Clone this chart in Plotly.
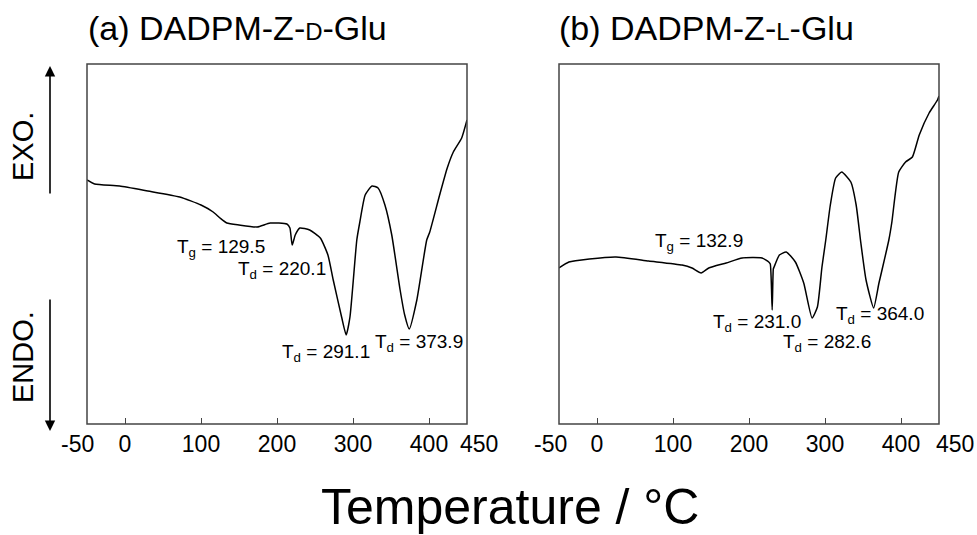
import plotly.graph_objects as go

# ---- data (y = arbitrary heat-flow units) ----
temp_a = [-50, -40, -7, 30, 72, 100, 116, 125, 134, 150, 174, 191, 213, 217, 220, 224, 230, 243,
          257, 267, 274, 285, 291, 296, 305, 309, 316, 325, 333, 342, 351, 362, 368, 374, 384,
          397, 401, 414, 424, 432, 443, 450]
heat_a = [244, 240, 238, 233, 227, 219, 212, 206, 201, 199, 197, 201, 200, 196, 179, 189, 196, 194,
          186, 169, 144, 107, 89, 107, 184, 202, 229, 238, 236, 219, 189, 134, 109, 95, 124,
          184, 192, 229, 256, 272, 286, 304]

temp_b = [-50, -37, -10, 25, 68, 112, 125, 137, 147, 170, 191, 217, 226, 228, 230.5, 232, 233,
          240, 249, 261, 272, 283, 290, 296, 301, 307, 314, 322, 334, 341, 347, 354, 364, 371,
          375, 384, 388, 397, 406, 415, 424, 437, 448, 450]
heat_b = [156, 162, 165, 167, 163, 159, 156, 151, 156, 161, 166, 166, 162, 160, 114, 155, 157,
          169, 172, 162, 141, 106, 117, 157, 184, 219, 246, 252, 242, 219, 182, 144, 116, 141,
          154, 184, 202, 252, 262, 267, 289, 311, 324, 328]

tick_vals = [0, 100, 200, 300, 400]
tick_text = ["0", "100", "200", "300", "400"]
end_ticks = [(-50, "-50"), (450, "450")]

titles = ["(a) DADPM-Z-<span style='font-size:24px'>D</span>-Glu",
          "(b) DADPM-Z-<span style='font-size:24px'>L</span>-Glu"]

# labels: (x, y, text)
labels_a = [(126, 176, "T<sub>g</sub> = 129.5"), (207, 154, "T<sub>d</sub> = 220.1"),
            (264, 71, "T<sub>d</sub> = 291.1"), (387, 81, "T<sub>d</sub> = 373.9")]
labels_b = [(134, 182, "T<sub>g</sub> = 132.9"), (211, 101, "T<sub>d</sub> = 231.0"),
            (303, 81, "T<sub>d</sub> = 282.6"), (372, 109, "T<sub>d</sub> = 364.0")]

FONT = "Liberation Sans, Arial, Helvetica, sans-serif"
W, H = 977, 535

fig = go.Figure()
fig.add_trace(go.Scatter(x=temp_a, y=heat_a, mode="lines",
                         line=dict(color="black", width=1.5, shape="spline", smoothing=0.5),
                         xaxis="x", yaxis="y", showlegend=False, hoverinfo="skip"))
fig.add_trace(go.Scatter(x=temp_b, y=heat_b, mode="lines",
                         line=dict(color="black", width=1.5, shape="spline", smoothing=0.5),
                         xaxis="x2", yaxis="y2", showlegend=False, hoverinfo="skip"))

xa = dict(range=[-50, 450], autorange=False, tickvals=tick_vals, ticktext=tick_text,
          ticks="inside", ticklen=6, tickcolor="#444", showline=False, ticklabelstandoff=4,
          showgrid=False, zeroline=False, tickfont=dict(family=FONT, size=23, color="black"),
          automargin=False)
ya = dict(range=[0, 360], autorange=False, showticklabels=False, ticks="", showline=False,
          showgrid=False, zeroline=False, domain=[1 - 424 / H, 1 - 64 / H], automargin=False)

fig.update_layout(
    width=W, height=H, autosize=False, margin=dict(l=0, r=0, t=0, b=0, pad=0),
    paper_bgcolor="white", plot_bgcolor="white",
    xaxis=dict(xa, domain=[87 / W, 467 / W], anchor="y"),
    xaxis2=dict(xa, domain=[559 / W, 939 / W], anchor="y2"),
    yaxis=dict(ya, anchor="x"),
    yaxis2=dict(ya, anchor="x2"),
    font=dict(family=FONT, color="black"),
)

# frames around the two panels
for xr, yr in [("x", "y"), ("x2", "y2")]:
    fig.add_shape(type="rect", xref=xr + " domain", yref=yr + " domain", x0=0, x1=1, y0=0, y1=1,
                  line=dict(color="#444", width=1.5), fillcolor="rgba(0,0,0,0)", layer="above")

ann = []
# titles
ann.append(dict(text=titles[0], x=237 / W, y=1 - 28 / H, xref="paper", yref="paper",
                showarrow=False, font=dict(size=34), xanchor="center", yanchor="middle"))
ann.append(dict(text=titles[1], x=706 / W, y=1 - 28 / H, xref="paper", yref="paper",
                showarrow=False, font=dict(size=34), xanchor="center", yanchor="middle"))
# peak labels
for (x, y, t) in labels_a:
    ann.append(dict(text=t, x=x, y=y, xref="x", yref="y", showarrow=False, font=dict(size=19)))
for (x, y, t) in labels_b:
    ann.append(dict(text=t, x=x, y=y, xref="x2", yref="y2", showarrow=False, font=dict(size=19)))
# end tick labels
shifts = {("x", -50): -10, ("x", 450): 12, ("x2", -50): -9, ("x2", 450): 16}
for xr in ["x", "x2"]:
    for v, t in end_ticks:
        ann.append(dict(text=t, x=v, y=1 - 444 / H, xref=xr, yref="paper", showarrow=False,
                        xshift=shifts[(xr, v)], font=dict(size=23), yanchor="middle"))
# EXO / ENDO
ann.append(dict(text="EXO.", x=23 / W, y=1 - 147 / H, xref="paper", yref="paper", showarrow=False,
                textangle=-90, font=dict(size=29), xanchor="center", yanchor="middle"))
ann.append(dict(text="ENDO.", x=23 / W, y=1 - 357 / H, xref="paper", yref="paper", showarrow=False,
                textangle=-90, font=dict(size=29), xanchor="center", yanchor="middle"))
# arrows
ann.append(dict(x=50 / W, y=1 - 66 / H, ax=0, ay=129, xref="paper", yref="paper",
                axref="pixel", ayref="pixel", showarrow=True, arrowhead=2, arrowsize=1.3,
                arrowwidth=1.6, arrowcolor="black", text=""))
ann.append(dict(x=50 / W, y=1 - 431 / H, ax=0, ay=-133, xref="paper", yref="paper",
                axref="pixel", ayref="pixel", showarrow=True, arrowhead=2, arrowsize=1.3,
                arrowwidth=1.6, arrowcolor="black", text=""))
# axis title
ann.append(dict(text="Temperature / °C", x=510 / W, y=1 - 507 / H, xref="paper", yref="paper",
                showarrow=False, font=dict(size=50), xanchor="center", yanchor="middle"))

fig.update_layout(annotations=ann)
fig.write_html("out.html", config={"displayModeBar": False},
               post_script="document.body.style.margin='0';document.body.style.overflow='hidden';")
